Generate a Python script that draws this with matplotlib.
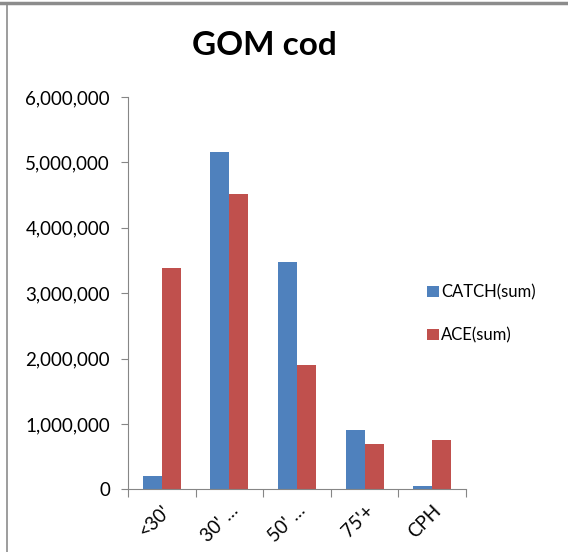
import matplotlib.pyplot as plt
import numpy as np
from matplotlib.lines import Line2D
from matplotlib.ticker import FuncFormatter

# Data
categories = ["<30'", "30' \u2026", "50' \u2026", "75'+", "CPH"]
catch_sum = [200000, 5160000, 3470000, 900000, 55000]
ace_sum = [3380000, 4520000, 1900000, 690000, 760000]

plt.rcParams['font.family'] = ['Lato', 'DejaVu Sans']

fig = plt.figure(figsize=(5.68, 5.52), dpi=100)
ax = fig.add_axes([0.2254, 0.1136, 0.595, 0.7107])

x = np.arange(len(categories))
w = 0.28
ax.bar(x - w/2, catch_sum, w, color='#4F81BD', label='CATCH(sum)')
ax.bar(x + w/2, ace_sum, w, color='#C0504D', label='ACE(sum)')

ax.set_xlim(-0.5, len(categories) - 0.5)
ax.set_ylim(0, 6000000)
ax.set_yticks(np.arange(0, 6000001, 1000000))
ax.yaxis.set_major_formatter(FuncFormatter(lambda v, p: f'{int(v):,}'))

# category boundaries as ticks, labels centred under groups
ax.set_xticks(np.arange(-0.5, len(categories)), minor=False)
ax.set_xticklabels([])
ax.set_xticks(x, minor=True)
ax.set_xticklabels(categories, minor=True, rotation=45, ha='right',
                   rotation_mode='anchor', fontsize=13.5)
ax.tick_params(axis='x', which='minor', length=0, pad=9)
ax.tick_params(axis='x', which='major', length=6, color='#868686', direction='out')
ax.tick_params(axis='y', length=5, color='#868686', labelsize=13.5, pad=8)

for s in ['top', 'right']:
    ax.spines[s].set_visible(False)
for s in ['left', 'bottom']:
    ax.spines[s].set_color('#868686')

fig.text(0.465, 0.918, 'GOM cod', ha='center', va='center',
         fontsize=24, fontweight='bold')

fig.legend(loc='upper left', bbox_to_anchor=(0.752, 0.485), frameon=False,
           fontsize=12, handlelength=0.7, handleheight=0.7, handletextpad=0.15,
           labelspacing=1.6, borderpad=0, borderaxespad=0)

# chart border (top and left edges visible in the crop)
fig.add_artist(Line2D([0, 1], [0.994, 0.994], color='#8c8c8c', lw=2.5,
                      transform=fig.transFigure))
fig.add_artist(Line2D([0.0125, 0.0125], [0, 0.992], color='#8c8c8c', lw=1.2,
                      transform=fig.transFigure))

fig.savefig('out.png', dpi=100)
